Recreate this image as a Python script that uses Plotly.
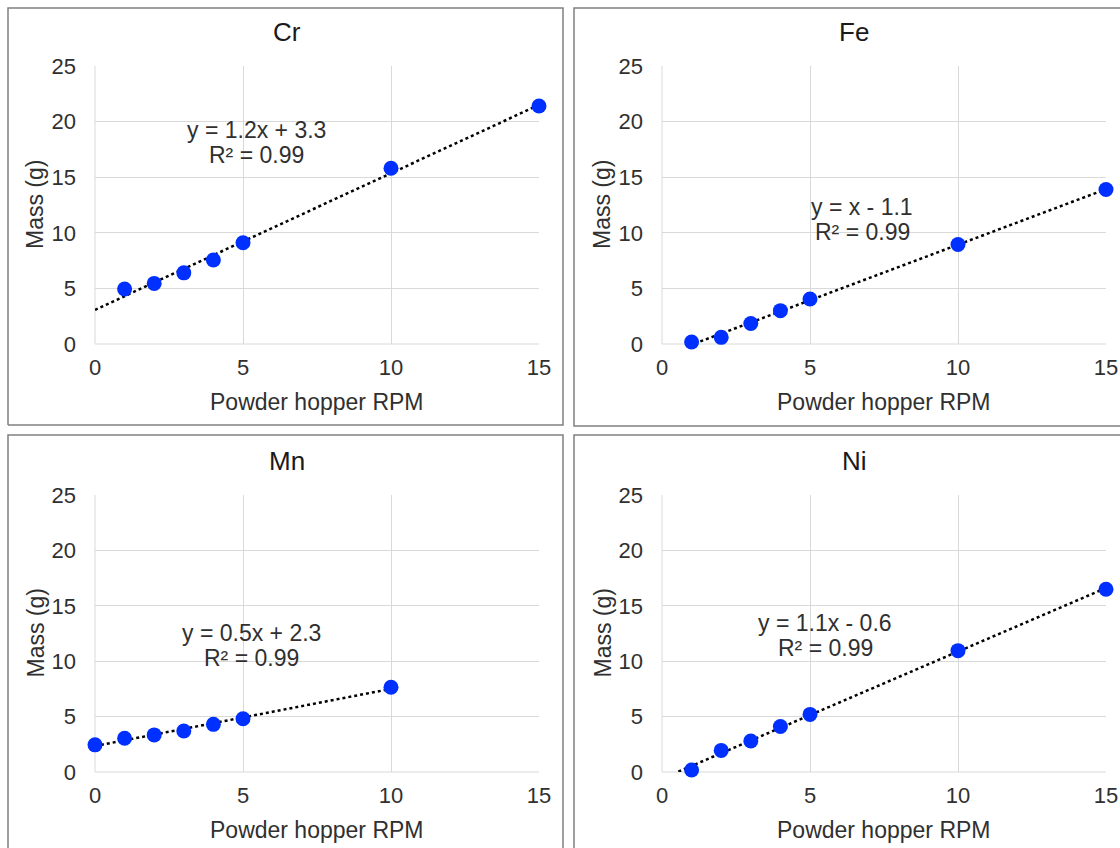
import numpy as np
import plotly.graph_objects as go

W, H = 1120, 848

# ---- data ----
elements = ["Cr", "Fe", "Mn", "Ni"]
cr_x = [1, 2, 3, 4, 5, 10, 15]
cr_y = [4.95, 5.45, 6.4, 7.55, 9.1, 15.8, 21.4]
fe_x = [1, 2, 3, 4, 5, 10, 15]
fe_y = [0.18, 0.6, 1.85, 3.0, 4.05, 8.95, 13.9]
mn_x = [0, 1, 2, 3, 4, 5, 10]
mn_y = [2.45, 3.05, 3.35, 3.7, 4.3, 4.8, 7.65]
ni_x = [1, 2, 3, 4, 5, 10, 15]
ni_y = [0.18, 1.95, 2.8, 4.1, 5.2, 10.95, 16.5]
trend_from = [0, 0, 0, 0]
trend_to = [15, 15, 10, 15]
equations = ["y = 1.2x + 3.3", "y = x - 1.1", "y = 0.5x + 2.3", "y = 1.1x - 0.6"]
r2_labels = ["R² = 0.99", "R² = 0.99", "R² = 0.99", "R² = 0.99"]
eq_pos = [(5.47, 18.1), (6.76, 11.2), (5.29, 11.46), (5.52, 12.36)]
x_ticks = [0, 5, 10, 15]
y_ticks = [0, 5, 10, 15, 20, 25]
x_title = "Powder hopper RPM"
y_title = "Mass (g)"

xs = [cr_x, fe_x, mn_x, ni_x]
ys = [cr_y, fe_y, mn_y, ni_y]

def px(x):
    return x / W

def py(y):
    return 1 - y / H

# plot areas in pixels: (left, right, top, bottom)
areas = [(95, 539, 66, 344), (662, 1106, 66, 344),
         (95, 539, 495, 772), (662, 1106, 495, 772)]
# panel box edges (polyline points, pixels), kept inside the figure
box_paths = [
    [(8, 425), (8, 8), (563, 8), (563, 425), (8, 425)],
    [(1120, 8), (574, 8), (574, 426), (1120, 426)],
    [(8, 848), (8, 435), (563, 435), (563, 848)],
    [(1120, 435), (574, 435), (574, 848)],
]

fig = go.Figure()
font_family = "Liberation Sans, Arial, sans-serif"
tick_color = "#303030"
text_size = 23
layout = dict(
    width=W, height=H, autosize=False,
    margin=dict(l=0, r=0, t=0, b=0, pad=0),
    paper_bgcolor="white", plot_bgcolor="white",
    showlegend=False,
    font=dict(family=font_family, size=text_size, color=tick_color),
)
annotations = []
shapes = []

for i, el in enumerate(elements):
    l, r, t, b = areas[i]
    xa = "x" if i == 0 else f"x{i+1}"
    ya = "y" if i == 0 else f"y{i+1}"
    xkey = "xaxis" if i == 0 else f"xaxis{i+1}"
    ykey = "yaxis" if i == 0 else f"yaxis{i+1}"
    layout[xkey] = dict(
        domain=[px(l), px(r)], anchor=ya, range=[0, 15], automargin=False,
        tickvals=x_ticks, showgrid=True, gridcolor="#d9d9d9", gridwidth=1,
        zeroline=False, showline=False, ticks="", ticklabelstandoff=8,
        tickfont=dict(size=22, color=tick_color, family=font_family),
    )
    layout[ykey] = dict(
        domain=[py(b), py(t)], anchor=xa, range=[0, 25], automargin=False,
        tickvals=y_ticks, showgrid=True, gridcolor="#d9d9d9", gridwidth=1,
        zeroline=False, showline=False, ticks="", ticklabelstandoff=18,
        tickfont=dict(size=22, color=tick_color, family=font_family),
    )
    shapes.append(dict(type="line", xref="paper", yref="paper",
                       x0=px(l), x1=px(l), y0=py(b), y1=py(t),
                       line=dict(color="#d9d9d9", width=1), layer="below"))
    shapes.append(dict(type="line", xref="paper", yref="paper",
                       x0=px(l), x1=px(r), y0=py(b), y1=py(b),
                       line=dict(color="#d9d9d9", width=1), layer="below"))

    # trend line from regression of the data
    m, c = np.polyfit(xs[i], ys[i], 1)
    tx = np.linspace(trend_from[i], trend_to[i], 300)
    ty = m * tx + c
    mask = ty >= 0
    fig.add_trace(go.Scatter(x=tx[mask], y=ty[mask], mode="lines",
                             line=dict(color="black", width=2.5, dash="dot"),
                             xaxis=xa, yaxis=ya, hoverinfo="skip"))
    fig.add_trace(go.Scatter(x=xs[i], y=ys[i], mode="markers",
                             marker=dict(color="#0030ff", size=15),
                             cliponaxis=False, xaxis=xa, yaxis=ya))

    cx = (l + r) / 2
    annotations.append(dict(text=el, xref="paper", yref="paper",
                            x=px(cx - 30), y=py(t - 34), showarrow=False,
                            font=dict(size=26, color="#1a1a1a"),
                            xanchor="center", yanchor="middle"))
    annotations.append(dict(text=x_title, xref="paper", yref="paper",
                            x=px(cx), y=py(b + 58), showarrow=False,
                            font=dict(size=text_size, color=tick_color),
                            xanchor="center", yanchor="middle"))
    annotations.append(dict(text=y_title, xref="paper", yref="paper",
                            x=px(l - 60), y=py((t + b) / 2), showarrow=False,
                            textangle=-90,
                            font=dict(size=text_size, color=tick_color),
                            xanchor="center", yanchor="middle"))
    ex, ey = eq_pos[i]
    annotations.append(dict(text=equations[i], xref=xa, yref=ya,
                            x=ex, y=ey, yshift=12.5, showarrow=False,
                            font=dict(size=text_size, color=tick_color),
                            xanchor="center", yanchor="middle"))
    annotations.append(dict(text=r2_labels[i], xref=xa, yref=ya,
                            x=ex, y=ey, yshift=-12.5, showarrow=False,
                            font=dict(size=text_size, color=tick_color),
                            xanchor="center", yanchor="middle"))
    pts = box_paths[i]
    path = "M " + " L ".join(f"{px(x):.6f},{py(y):.6f}" for x, y in pts)
    shapes.append(dict(type="path", xref="paper", yref="paper", path=path,
                       line=dict(color="#808080", width=1.5), layer="below"))

layout["annotations"] = annotations
layout["shapes"] = shapes
fig.update_layout(**layout)
fig.write_html("out.html")
